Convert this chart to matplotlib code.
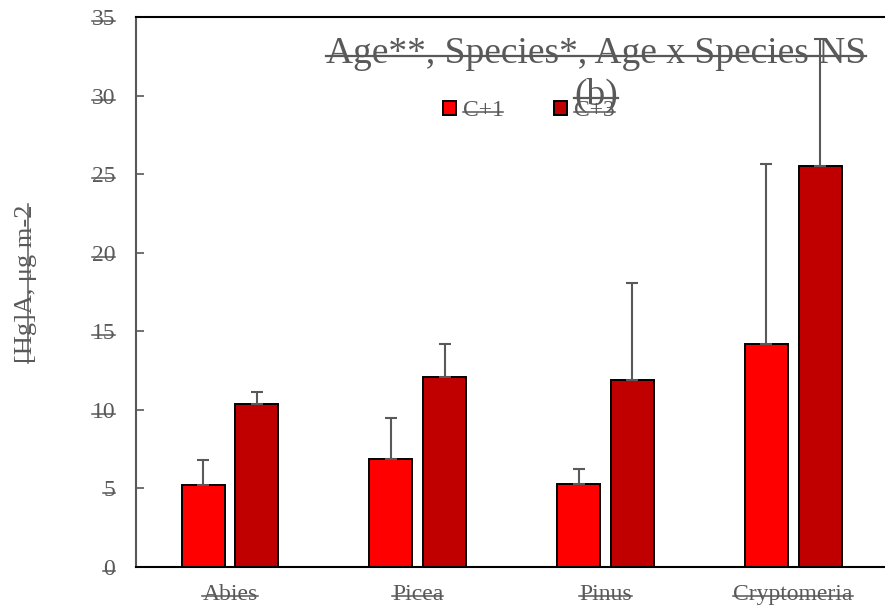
import numpy as np
import matplotlib
matplotlib.use("Agg")
import matplotlib.pyplot as plt
from matplotlib.lines import Line2D

plt.rcParams["font.family"] = ["Liberation Serif", "DejaVu Serif"]

species = ["Abies", "Picea", "Pinus", "Cryptomeria"]
c1_mean = [5.2, 6.9, 5.3, 14.2]
c1_err = [1.6, 2.6, 0.95, 11.45]
c3_mean = [10.4, 12.1, 11.9, 25.5]
c3_err = [0.75, 2.1, 6.2, 8.1]

grey = "#595959"

fig = plt.figure(figsize=(8.85, 6.11), dpi=100)
ax = fig.add_axes([0.1537, 0.072, 0.8486, 0.9002])

x = np.arange(len(species))
w = 0.229
off = 0.143
err_kw = dict(ecolor=grey, elinewidth=1.5, capsize=4, capthick=1.5)
ax.bar(x - off, c1_mean, w, color="#FF0000", edgecolor="black", linewidth=1.4,
       yerr=[np.zeros(4), c1_err], error_kw=err_kw, label="C+1", zorder=2)
ax.bar(x + off, c3_mean, w, color="#C00000", edgecolor="black", linewidth=1.4,
       yerr=[np.zeros(4), c3_err], error_kw=err_kw, label="C+3", zorder=2)

ax.set_xlim(-0.5, 3.5)
ax.set_ylim(0, 35)
ax.set_yticks(range(0, 36, 5))
ax.set_xticks(x)
ax.set_xticklabels(species)
ax.tick_params(axis="x", length=0, pad=12, labelsize=17, labelcolor=grey)
ax.tick_params(axis="y", direction="in", length=6, width=1.2, color=grey,
               pad=15, labelsize=17, labelcolor=grey)
ax.spines["right"].set_visible(False)
ax.spines["left"].set_color(grey)
ax.spines["left"].set_linewidth(1.5)
ax.spines["bottom"].set_linewidth(1.5)
ax.spines["top"].set_linewidth(1.5)

ylab = ax.set_ylabel("[Hg]A, μg m-2", fontsize=19, color=grey)
ax.yaxis.set_label_coords(-0.132, 0.515)

title = ax.text(0.6125, 0.917, "Age**, Species*, Age x Species NS", transform=ax.transAxes,
                ha="center", va="baseline", fontsize=27, color=grey, zorder=5)
sub = ax.text(0.6125, 0.84, "(b)", transform=ax.transAxes,
              ha="center", va="baseline", fontsize=27, color=grey, zorder=5)

leg = ax.legend(loc="center", bbox_to_anchor=(0.523, 0.83), ncol=2, frameon=False,
                fontsize=17, handlelength=0.55, handleheight=0.55, handletextpad=0.3,
                columnspacing=2.15, labelcolor=grey)
for h in leg.legend_handles:
    h.set_linewidth(1.4)

# every text in the reference is struck through
fig.canvas.draw()
r = fig.canvas.get_renderer()
inv = fig.transFigure.inverted()
texts = [title, sub] + list(leg.get_texts()) + ax.get_xticklabels() + ax.get_yticklabels()
frac = 0.42
for t in texts:
    bb = t.get_window_extent(r)
    yy = bb.y0 + frac * bb.height
    (x0, y0), (x1, y1) = inv.transform([(bb.x0, yy), (bb.x1, yy)])
    lw = 1.6 if t in (title, sub) else 1.1
    fig.add_artist(Line2D([x0, x1], [y0, y1], color=grey, lw=lw, zorder=6))
bb = ylab.get_window_extent(r)
xx = bb.x1 - frac * bb.width
(x0, y0), (x1, y1) = inv.transform([(xx, bb.y0), (xx, bb.y1)])
fig.add_artist(Line2D([x0, x1], [y0, y1], color=grey, lw=1.1, zorder=6))

fig.savefig("out.png", dpi=100)
